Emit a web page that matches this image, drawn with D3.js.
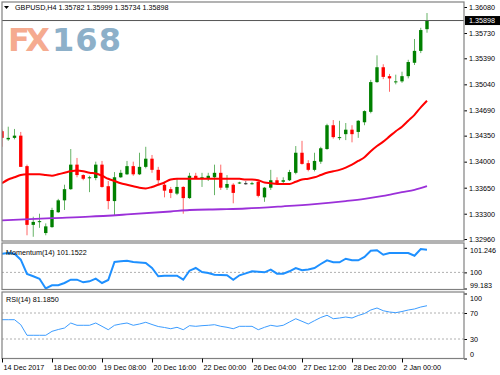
<!DOCTYPE html>
<html>
<head>
<meta charset="utf-8">
<script src="https://cdnjs.cloudflare.com/ajax/libs/d3/7.8.5/d3.min.js"></script>
<style>
body { margin: 0; background: #fff; }
svg text { font-family: "Liberation Sans", Arial, sans-serif; font-size: 7.2px; fill: #000; }
.axis path { display: none; }
.axis line { stroke: #000; }
</style>
</head>
<body>
<div id="chart"></div>
<script>
// GBPUSD H4 candles
var opens = [1.3441, 1.3430, 1.3432, 1.3435, 1.3394, 1.3315, 1.3319, 1.3304, 1.3312, 1.3332,
  1.3348, 1.3363, 1.3396, 1.3382, 1.3378, 1.3378, 1.3396, 1.3367, 1.3347, 1.3379,
  1.3383, 1.3394, 1.3383, 1.3393, 1.3404, 1.3389, 1.3369, 1.3363, 1.3357, 1.3366,
  1.3351, 1.3381, 1.3378, 1.3378, 1.3379, 1.3385, 1.3365, 1.3369, 1.3371, 1.3371,
  1.3370, 1.3373, 1.3352, 1.3365, 1.3375, 1.3373, 1.3375, 1.3385, 1.3412, 1.3398,
  1.3389, 1.3400, 1.3417, 1.3449, 1.3432, 1.3437, 1.3443, 1.3440, 1.3453, 1.3467,
  1.3507, 1.3527, 1.3515, 1.3507, 1.3508, 1.3515, 1.3533, 1.3549, 1.35782];
var highs = [1.3443, 1.3447, 1.3444, 1.3440, 1.3396, 1.3326, 1.3330, 1.3317, 1.3338, 1.3350,
  1.3369, 1.3417, 1.3405, 1.3383, 1.3381, 1.3400, 1.3401, 1.3374, 1.3386, 1.3389,
  1.3401, 1.3400, 1.3412, 1.3420, 1.3409, 1.3393, 1.3373, 1.3366, 1.3378, 1.3367,
  1.3385, 1.3385, 1.3385, 1.3385, 1.3396, 1.3396, 1.3382, 1.3371, 1.3373, 1.3374,
  1.3373, 1.3375, 1.3366, 1.3389, 1.3379, 1.3379, 1.3389, 1.3421, 1.3428, 1.3402,
  1.3412, 1.3420, 1.3451, 1.3456, 1.3455, 1.3452, 1.3449, 1.3456, 1.3469, 1.3510,
  1.3543, 1.3531, 1.3518, 1.3517, 1.3521, 1.3537, 1.3565, 1.3580, 1.35999];
var lows = [1.3420, 1.3428, 1.3430, 1.3393, 1.3301, 1.3299, 1.3311, 1.3301, 1.3311, 1.3331,
  1.3335, 1.3362, 1.3379, 1.3375, 1.3359, 1.3375, 1.3365, 1.3336, 1.3328, 1.3378,
  1.3382, 1.3381, 1.3382, 1.3391, 1.3385, 1.3369, 1.3352, 1.3351, 1.3355, 1.3330,
  1.3350, 1.3377, 1.3366, 1.3374, 1.3355, 1.3362, 1.3362, 1.3344, 1.3370, 1.3369,
  1.3369, 1.3352, 1.3346, 1.3362, 1.3371, 1.3371, 1.3374, 1.3383, 1.3396, 1.3387,
  1.3387, 1.3397, 1.3416, 1.3431, 1.3429, 1.3429, 1.3426, 1.3432, 1.3449, 1.3465,
  1.3506, 1.3511, 1.3494, 1.3504, 1.3506, 1.3512, 1.3530, 1.3546, 1.35734];
var closes = [1.3432, 1.3432, 1.3435, 1.3393, 1.3315, 1.3319, 1.3320, 1.3313, 1.3335, 1.3348,
  1.3363, 1.3396, 1.3382, 1.3377, 1.3379, 1.3396, 1.3366, 1.3347, 1.3379, 1.3385,
  1.3394, 1.3383, 1.3393, 1.3404, 1.3389, 1.3375, 1.3361, 1.3358, 1.3366, 1.3351,
  1.3381, 1.3378, 1.3379, 1.3381, 1.3385, 1.3365, 1.3370, 1.3358, 1.3372, 1.3371,
  1.3371, 1.3354, 1.3365, 1.3375, 1.3371, 1.3375, 1.3386, 1.3412, 1.3397, 1.3389,
  1.3401, 1.3418, 1.3449, 1.3433, 1.3433, 1.3443, 1.3437, 1.3455, 1.3468, 1.3507,
  1.3527, 1.3514, 1.3512, 1.3508, 1.3515, 1.3534, 1.3549, 1.3577, 1.35898];

// moving averages (red fast one, purple slow one)
var maFast = [1.3371, 1.3376, 1.3379, 1.3382, 1.3383, 1.3383, 1.3383, 1.3382, 1.3381, 1.3383,
  1.3385, 1.3387, 1.3388, 1.3387, 1.3385, 1.3384, 1.3381, 1.3377, 1.3374, 1.3371,
  1.3369, 1.3367, 1.3365, 1.3364, 1.3366, 1.3369, 1.3372, 1.3376, 1.3377, 1.3377,
  1.3377, 1.3377, 1.3377, 1.3377, 1.3377, 1.3377, 1.3377, 1.3377, 1.3377, 1.3376,
  1.3376, 1.3375, 1.3372, 1.3371, 1.3370, 1.3370, 1.3370, 1.3373, 1.3376, 1.3377,
  1.3379, 1.3382, 1.3385, 1.3387, 1.3389, 1.3392, 1.3396, 1.3401, 1.3406, 1.3414,
  1.3421, 1.3427, 1.3434, 1.3441, 1.3447, 1.3455, 1.3463, 1.3473, 1.3482];
var maSlowBars = [0, 8, 14, 20, 27, 30, 35, 39, 45, 50, 55, 58, 61, 64, 66, 68];
var maSlow = [1.3321, 1.3324, 1.3326, 1.3329, 1.3333, 1.3335, 1.3336, 1.3337, 1.3340, 1.3343,
  1.3347, 1.3350, 1.3354, 1.3359, 1.3362, 1.3367];

// Momentum(14)
var momentum = [100.947, 100.982, 100.947, 100.643, 99.918, 99.801, 99.680, 99.183, 99.345, 99.345,
  99.462, 99.629, 99.629, 99.497, 99.548, 99.680, 99.462, 99.614, 100.526, 100.562,
  100.592, 100.526, 100.501, 100.475, 100.222, 99.801, 99.832, 99.832, 99.832, 99.629,
  100.085, 100.222, 100.019, 99.969, 99.882, 99.867, 99.852, 99.629, 99.852, 99.950,
  100.055, 100.030, 100.004, 100.136, 99.933, 99.933, 100.055, 100.222, 100.105, 100.146,
  100.222, 100.425, 100.612, 100.511, 100.511, 100.693, 100.612, 100.612, 100.780, 101.099,
  101.119, 100.896, 100.982, 100.982, 100.982, 100.982, 100.845, 101.185, 101.152];

// RSI(14)
var rsi = [59.7, 59.7, 59.7, 52.0, 35.7, 35.7, 35.7, 35.7, 41.8, 44.6,
  46.9, 54.6, 51.1, 51.1, 51.1, 54.6, 49.5, 44.3, 51.1, 53.1,
  54.6, 51.1, 53.1, 55.7, 52.3, 49.2, 47.7, 45.8, 48.0, 44.3,
  50.5, 49.5, 50.5, 51.1, 52.0, 49.5, 48.0, 45.8, 49.5, 49.5,
  49.5, 44.3, 48.0, 51.1, 49.5, 51.1, 56.2, 61.2, 57.2, 53.1,
  58.2, 63.1, 66.5, 61.2, 62.3, 63.8, 62.3, 66.2, 69.2, 74.6,
  77.7, 73.5, 71.5, 70.5, 72.3, 74.6, 76.2, 79.2, 81.185];

var priceTicks = [1.36080, 1.35730, 1.35390, 1.35040, 1.34690, 1.34350, 1.34000, 1.33650, 1.33300, 1.32960];
var momTicks = [101.246, 100, 99.183];
var momTickLabels = ['101.246', '100', '99.183'];
var rsiTicks = [100, 70, 30, 0];
var rsiLevels = [70, 30];
var timeTickBars = [0, 8, 16, 24, 32, 40, 48, 56, 64];
var timeLabels = ['14 Dec 2017', '18 Dec 00:00', '19 Dec 08:00', '20 Dec 16:00', '22 Dec 00:00',
  '26 Dec 04:00', '27 Dec 12:00', '28 Dec 20:00', '2 Jan 00:00'];
var header = 'GBPUSD,H4  1.35782 1.35999 1.35734 1.35898';

///////////////////////////////////////////////////////////////
// layout
///////////////////////////////////////////////////////////////
var width = 500, height = 375;
var left = 2, right = 464;
var mainTop = 2, mainBottom = 241;
var momTop = 243, momBottom = 289.5;
var rsiTop = 292, rsiBottom = 358.5;

var svg = d3.select('#chart').append('svg')
  .attr('width', width)
  .attr('height', height);

var x = d3.scaleLinear().domain([0, 68]).range([2, 427]);
var yPrice = d3.scaleLinear().domain([1.3296, 1.3608]).range([239, 7]);
var yMom = d3.scaleLinear().domain([99.183, 101.246]).range([288.5, 247.8]);
var yRsi = d3.scaleLinear().domain([0, 100]).range([358.5, 293.5]);

var bars = d3.range(opens.length).map(i => ({ i: i, o: opens[i], h: highs[i], l: lows[i], c: closes[i] }));

var defs = svg.append('defs');
function clip(id, top, bottom) {
  defs.append('clipPath').attr('id', id)
    .append('rect').attr('x', left).attr('y', top).attr('width', right - left).attr('height', bottom - top);
}
clip('clipMain', mainTop, mainBottom);
clip('clipMom', momTop, momBottom);
clip('clipRsi', rsiTop, rsiBottom);

// watermark
var logo = svg.append('text')
  .attr('x', 8)
  .attr('y', 50.7)
  .style('font-family', '"DejaVu Sans", sans-serif')
  .style('font-weight', 'bold')
  .style('font-size', '32px');
logo.append('tspan').text('FX').style('fill', '#f5ab90').attr('textLength', 42);
logo.append('tspan').text('168').style('fill', '#8db0c9').attr('x', 52).attr('textLength', 69);

///////////////////////////////////////////////////////////////
// main chart
///////////////////////////////////////////////////////////////
var main = svg.append('g').attr('clip-path', 'url(#clipMain)');

function candleColor(d) {
  if (d.c > d.o) return '#008000';
  if (d.c < d.o) return '#ff0000';
  return '#222';
}

var candle = main.selectAll('.candle')
  .data(bars)
  .enter()
  .append('g')
  .attr('class', 'candle');

candle.append('line')
  .attr('x1', d => x(d.i))
  .attr('x2', d => x(d.i))
  .attr('y1', d => yPrice(d.h))
  .attr('y2', d => yPrice(d.l))
  .attr('stroke', candleColor)
  .attr('stroke-opacity', 0.6)
  .attr('stroke-width', 1);

candle.append('rect')
  .attr('x', d => x(d.i) - 1.7)
  .attr('width', 3.4)
  .attr('y', d => yPrice(Math.max(d.o, d.c)))
  .attr('height', d => Math.max(1, Math.abs(yPrice(d.o) - yPrice(d.c))))
  .attr('fill', candleColor);

main.append('path')
  .datum(maSlow)
  .attr('fill', 'none')
  .attr('stroke', '#9b30d9')
  .attr('stroke-width', 1.8)
  .attr('d', d3.line().x((d, i) => x(maSlowBars[i])).y(d => yPrice(d)).curve(d3.curveMonotoneX));

main.append('path')
  .datum(maFast)
  .attr('fill', 'none')
  .attr('stroke', '#ff0000')
  .attr('stroke-width', 2)
  .attr('d', d3.line().x((d, i) => x(i)).y(d => yPrice(d)).curve(d3.curveMonotoneX));

// current price line
var last = closes[closes.length - 1];
svg.append('line')
  .attr('x1', left).attr('x2', right)
  .attr('y1', yPrice(last)).attr('y2', yPrice(last))
  .attr('stroke', '#555').attr('stroke-width', 1);

var priceAxis = d3.axisRight(yPrice)
  .tickValues(priceTicks)
  .tickSize(3)
  .tickPadding(2)
  .tickFormat(d3.format('.5f'));

svg.append('g')
  .attr('class', 'axis')
  .attr('transform', 'translate(' + right + ',0)')
  .call(priceAxis);

svg.append('rect')
  .attr('x', right + 1).attr('y', yPrice(last) - 4.5)
  .attr('width', width - right - 1).attr('height', 9)
  .attr('fill', '#000');
svg.append('text')
  .attr('x', right + 5).attr('y', yPrice(last))
  .attr('dy', '0.35em')
  .style('fill', '#fff')
  .text(d3.format('.5f')(last));

// header
svg.append('path')
  .attr('d', 'M4,6 L9,6 L6.5,9 Z')
  .attr('fill', '#000');
svg.append('text')
  .attr('x', 15).attr('y', 7.5)
  .attr('dy', '0.35em')
  .text(header);

///////////////////////////////////////////////////////////////
// momentum
///////////////////////////////////////////////////////////////
var mom = svg.append('g').attr('clip-path', 'url(#clipMom)');

mom.append('line')
  .attr('x1', left).attr('x2', right)
  .attr('y1', yMom(100)).attr('y2', yMom(100))
  .attr('stroke', '#b0b0b0').attr('stroke-dasharray', '2,2');

mom.append('path')
  .datum(momentum)
  .attr('fill', 'none')
  .attr('stroke', '#1e90ff')
  .attr('stroke-width', 2)
  .attr('d', d3.line().x((d, i) => x(i)).y(d => yMom(d)));

svg.append('text')
  .attr('x', 6).attr('y', 252)
  .attr('dy', '0.35em')
  .text('Momentum(14) 101.1522');

var momAxis = d3.axisRight(yMom)
  .tickValues(momTicks)
  .tickSize(3)
  .tickPadding(3)
  .tickFormat((d, i) => momTickLabels[i]);

var momG = svg.append('g')
  .attr('class', 'axis')
  .attr('transform', 'translate(' + right + ',0)')
  .call(momAxis);
momG.selectAll('.tick text').attr('y', (d, i) => i === 0 ? 2 : (i === 2 ? -3 : 0));

///////////////////////////////////////////////////////////////
// RSI
///////////////////////////////////////////////////////////////
var rs = svg.append('g').attr('clip-path', 'url(#clipRsi)');

rs.selectAll('.level')
  .data(rsiLevels)
  .enter()
  .append('line')
  .attr('x1', left).attr('x2', right)
  .attr('y1', d => yRsi(d)).attr('y2', d => yRsi(d))
  .attr('stroke', '#b0b0b0').attr('stroke-dasharray', '2,2');

rs.append('path')
  .datum(rsi)
  .attr('fill', 'none')
  .attr('stroke', '#3c9cff')
  .attr('stroke-width', 1)
  .attr('d', d3.line().x((d, i) => x(i)).y(d => yRsi(d)));

svg.append('text')
  .attr('x', 6).attr('y', 299.7)
  .attr('dy', '0.35em')
  .text('RSI(14) 81.1850');

var rsiAxis = d3.axisRight(yRsi)
  .tickValues(rsiTicks)
  .tickSize(3)
  .tickPadding(3)
  .tickFormat(d3.format('d'));

var rsiG = svg.append('g')
  .attr('class', 'axis')
  .attr('transform', 'translate(' + right + ',0)')
  .call(rsiAxis);
rsiG.selectAll('.tick text').attr('y', d => d === 100 ? 4.5 : (d === 0 ? -4.5 : 0));

///////////////////////////////////////////////////////////////
// frames
///////////////////////////////////////////////////////////////
[[mainTop, mainBottom], [momTop, momBottom], [rsiTop, rsiBottom]].forEach(p => {
  svg.append('rect')
    .attr('x', left).attr('y', p[0])
    .attr('width', right - left).attr('height', p[1] - p[0])
    .attr('fill', 'none')
    .attr('stroke', '#808080')
    .attr('stroke-width', 1.2);
});

///////////////////////////////////////////////////////////////
// time axis
///////////////////////////////////////////////////////////////
var timeAxis = d3.axisBottom(x)
  .tickValues(timeTickBars)
  .tickSize(4)
  .tickPadding(2)
  .tickFormat((d, i) => timeLabels[i]);

var tG = svg.append('g')
  .attr('class', 'axis')
  .attr('transform', 'translate(0,' + rsiBottom + ')')
  .call(timeAxis);
tG.selectAll('.tick text')
  .attr('text-anchor', 'start')
  .attr('x', 1);
</script>
</body>
</html>
